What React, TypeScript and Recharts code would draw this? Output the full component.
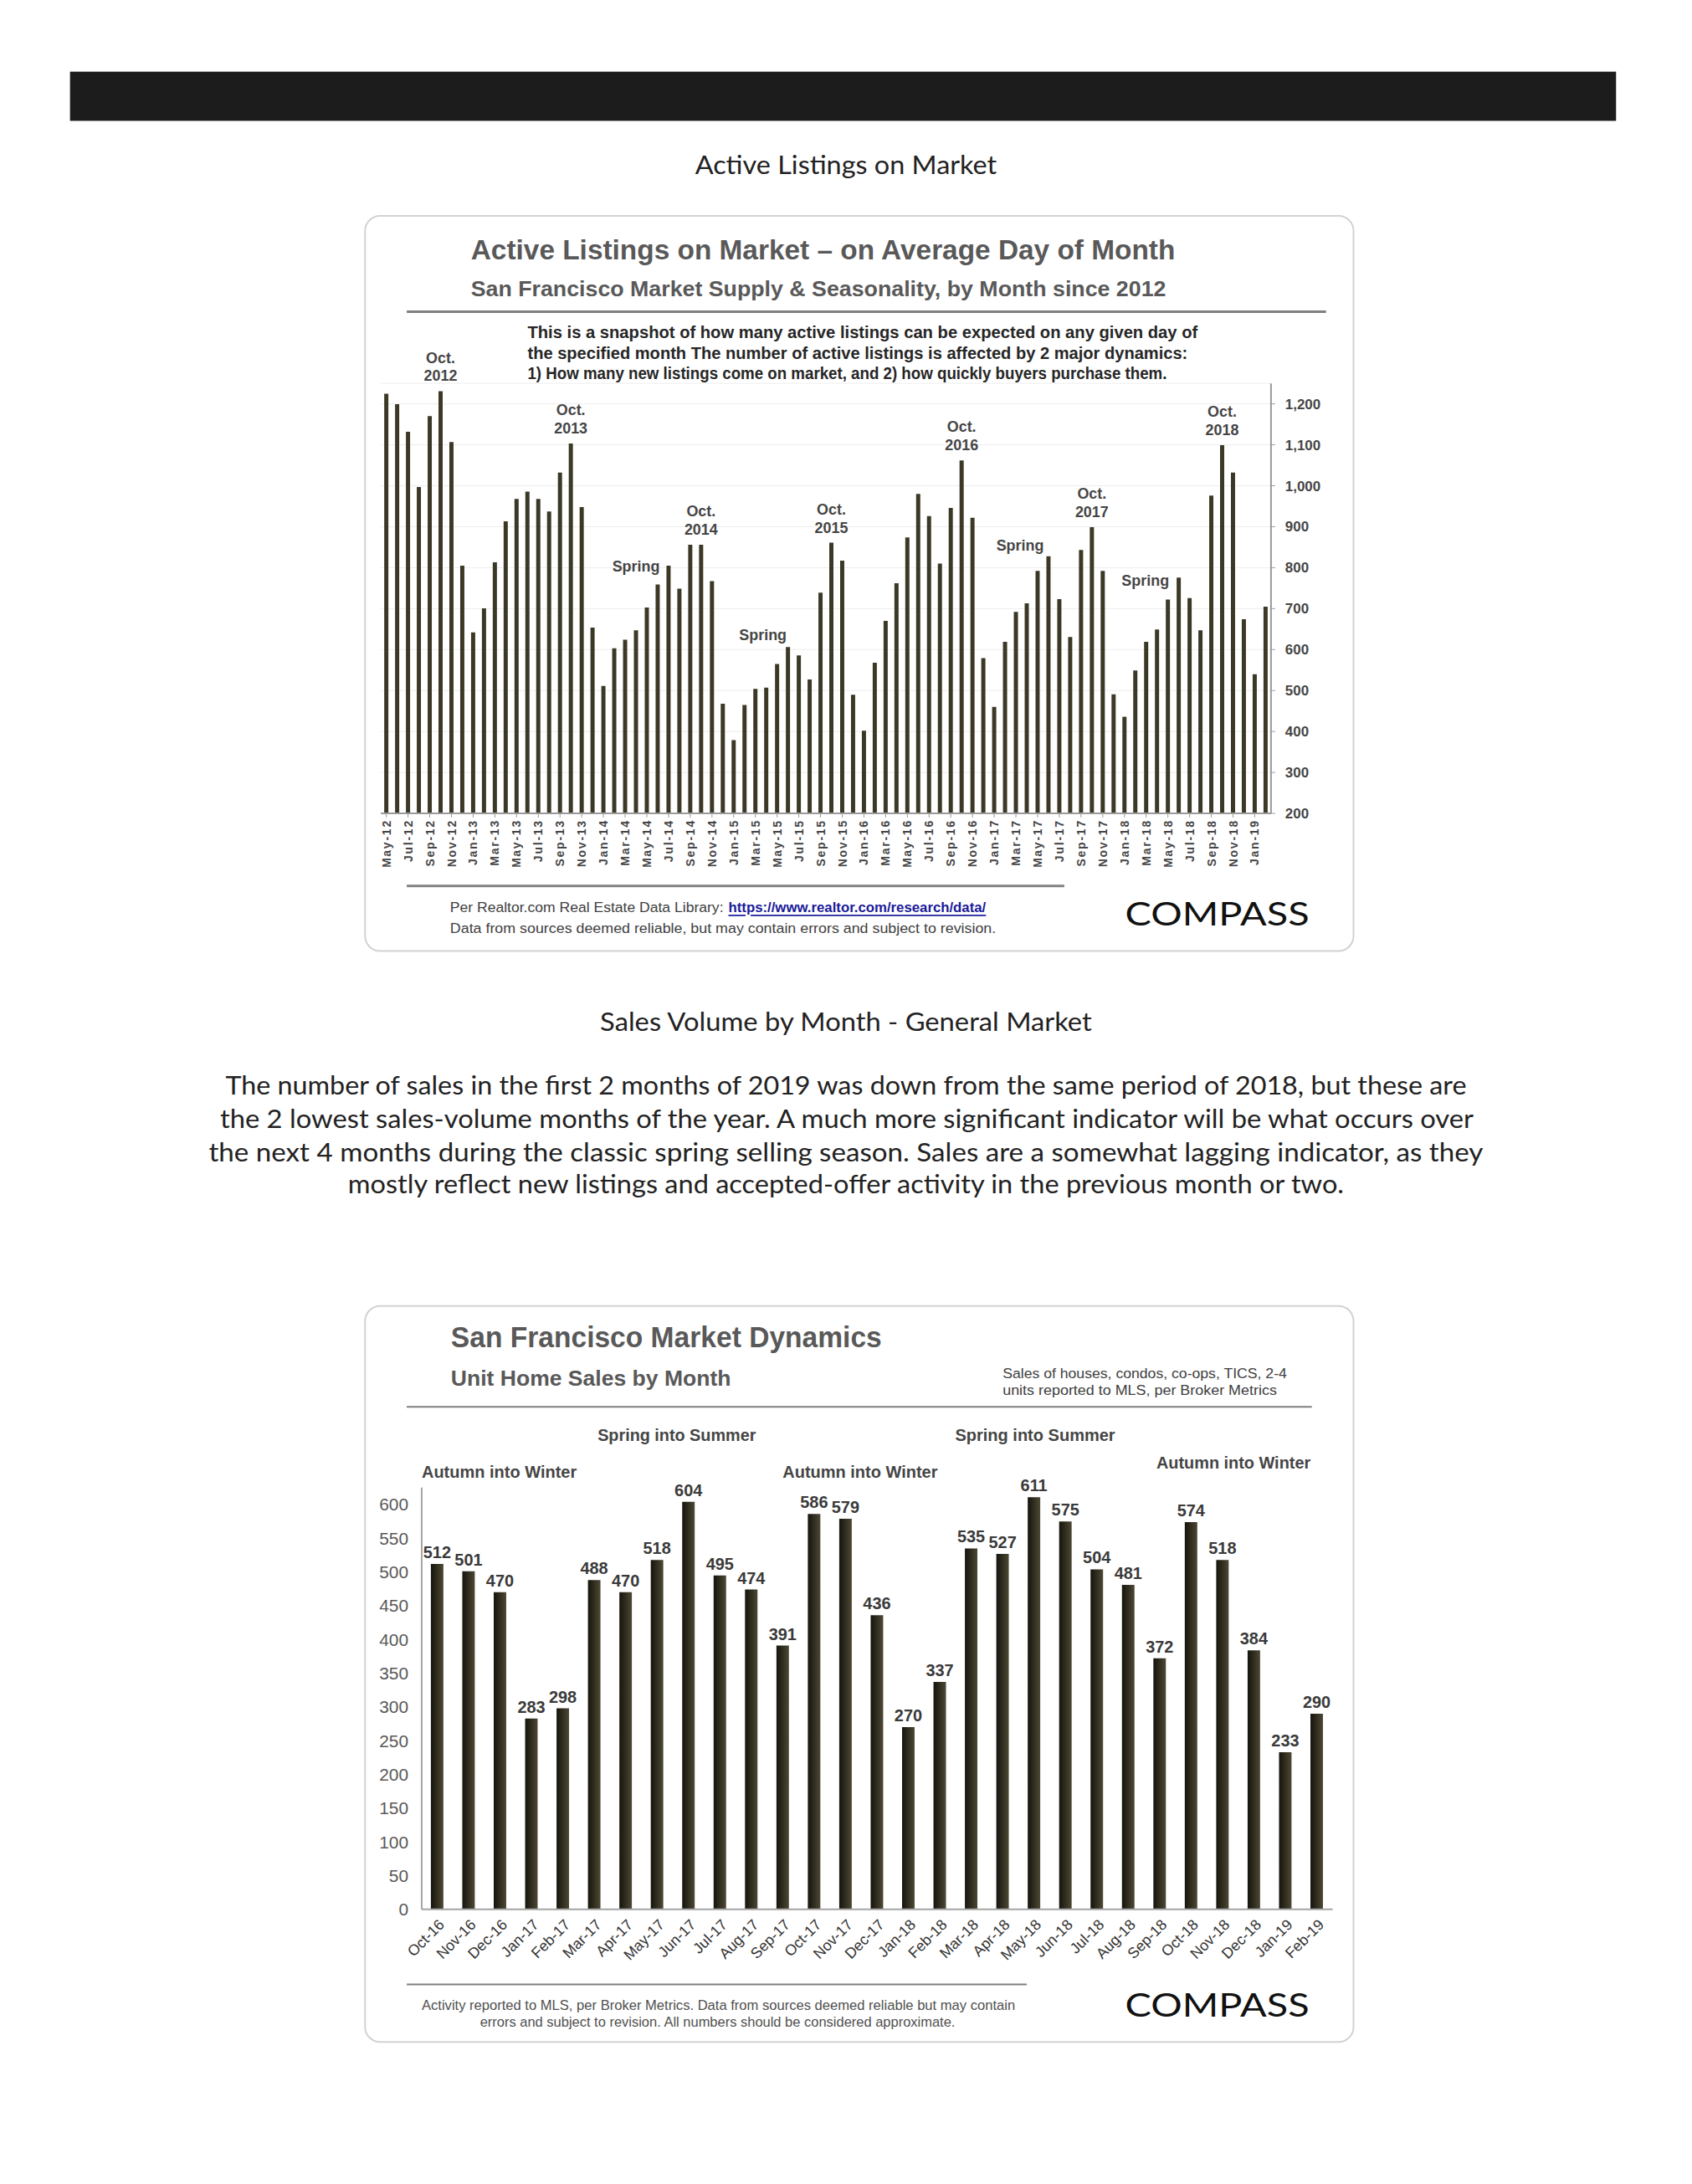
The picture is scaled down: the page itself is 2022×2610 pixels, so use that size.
import React from 'react';
import { BarChart, Bar, XAxis, YAxis, CartesianGrid, LabelList, ReferenceDot } from 'recharts';

// Active listings, May-12 .. Feb-19
const listingMonths = [
  'May-12', 'Jun-12', 'Jul-12', 'Aug-12', 'Sep-12', 'Oct-12', 'Nov-12', 'Dec-12',
  'Jan-13', 'Feb-13', 'Mar-13', 'Apr-13', 'May-13', 'Jun-13', 'Jul-13', 'Aug-13', 'Sep-13', 'Oct-13', 'Nov-13', 'Dec-13',
  'Jan-14', 'Feb-14', 'Mar-14', 'Apr-14', 'May-14', 'Jun-14', 'Jul-14', 'Aug-14', 'Sep-14', 'Oct-14', 'Nov-14', 'Dec-14',
  'Jan-15', 'Feb-15', 'Mar-15', 'Apr-15', 'May-15', 'Jun-15', 'Jul-15', 'Aug-15', 'Sep-15', 'Oct-15', 'Nov-15', 'Dec-15',
  'Jan-16', 'Feb-16', 'Mar-16', 'Apr-16', 'May-16', 'Jun-16', 'Jul-16', 'Aug-16', 'Sep-16', 'Oct-16', 'Nov-16', 'Dec-16',
  'Jan-17', 'Feb-17', 'Mar-17', 'Apr-17', 'May-17', 'Jun-17', 'Jul-17', 'Aug-17', 'Sep-17', 'Oct-17', 'Nov-17', 'Dec-17',
  'Jan-18', 'Feb-18', 'Mar-18', 'Apr-18', 'May-18', 'Jun-18', 'Jul-18', 'Aug-18', 'Sep-18', 'Oct-18', 'Nov-18', 'Dec-18',
  'Jan-19', 'Feb-19',
];
const listingValues = [
  1225, 1199, 1132, 997, 1170, 1231, 1107, 805,
  642, 701, 813, 913, 968, 986, 968, 937, 1032, 1103, 948, 654,
  511, 603, 624, 647, 703, 759, 805, 749, 856, 856, 767, 468,
  379, 465, 504, 507, 565, 606, 586, 527, 739, 861, 817, 490,
  402, 568, 670, 762, 874, 980, 926, 810, 946, 1062, 922, 579,
  460, 619, 692, 713, 792, 828, 723, 631, 843, 899, 792, 491,
  436, 549, 619, 649, 722, 776, 726, 647, 976, 1099, 1032, 674,
  540, 705,
];
const listingTicks = [200, 300, 400, 500, 600, 700, 800, 900, 1000, 1100, 1200];
const peakYears: Record<string, string> = {
  'Oct-12': '2012', 'Oct-13': '2013', 'Oct-14': '2014', 'Oct-15': '2015',
  'Oct-16': '2016', 'Oct-17': '2017', 'Oct-18': '2018',
};
const springNotes = [
  { month: 'Apr-14', value: 803, dx: 0 },
  { month: 'Apr-15', value: 636, dx: -4 },
  { month: 'Mar-17', value: 854, dx: 5 },
  { month: 'Mar-18', value: 768, dx: -1 },
];

// Unit home sales, Oct-16 .. Feb-19
const salesMonths = [
  'Oct-16', 'Nov-16', 'Dec-16', 'Jan-17', 'Feb-17', 'Mar-17', 'Apr-17', 'May-17', 'Jun-17', 'Jul-17',
  'Aug-17', 'Sep-17', 'Oct-17', 'Nov-17', 'Dec-17', 'Jan-18', 'Feb-18', 'Mar-18', 'Apr-18', 'May-18',
  'Jun-18', 'Jul-18', 'Aug-18', 'Sep-18', 'Oct-18', 'Nov-18', 'Dec-18', 'Jan-19', 'Feb-19',
];
const salesValues = [
  512, 501, 470, 283, 298, 488, 470, 518, 604, 495,
  474, 391, 586, 579, 436, 270, 337, 535, 527, 611,
  575, 504, 481, 372, 574, 518, 384, 233, 290,
];
const salesTicks = [0, 50, 100, 150, 200, 250, 300, 350, 400, 450, 500, 550, 600];

const paragraph = [
  'The number of sales in the first 2 months of 2019 was down from the same period of 2018, but these are',
  'the 2 lowest sales-volume months of the year. A much more significant indicator will be what occurs over',
  'the next 4 months during the classic spring selling season. Sales are a somewhat lagging indicator, as they',
  'mostly reflect new listings and accepted-offer activity in the previous month or two.',
];

const listingRows = listingMonths.map((month, i) => ({ month, value: listingValues[i], peak: peakYears[month] }));
const salesRows = salesMonths.map((month, i) => ({ month, sales: salesValues[i] }));

const ARIAL = "'Liberation Sans', Arial, sans-serif";
const NARROW = "'Liberation Sans Narrow', 'Arial Narrow', 'Liberation Sans', sans-serif";
const LATO = "Lato, 'Open Sans', sans-serif";

// fixed-width text helper for the page furniture
function T({ x, y, w, size, children, weight = 400, fill = '#222', family = ARIAL, anchor = 'start', underline = false }: any) {
  return (
    <text
      x={x}
      y={y}
      fontSize={size}
      fontWeight={weight}
      fill={fill}
      fontFamily={family}
      textAnchor={anchor}
      dominantBaseline="central"
      textLength={w}
      lengthAdjust="spacingAndGlyphs"
      textDecoration={underline ? 'underline' : undefined}
    >
      {children}
    </text>
  );
}

function MonthTick({ x, y, payload }: any) {
  return (
    <text
      x={x}
      y={y}
      transform={`rotate(-90 ${x} ${y})`}
      textAnchor="end"
      dy="0.36em"
      fontSize={14}
      fontWeight={700}
      letterSpacing={1.8}
      fill="#454545"
      fontFamily={ARIAL}
    >
      {payload.value}
    </text>
  );
}

function DiagTick({ x, y, payload }: any) {
  return (
    <g transform={`translate(${x + 5},${y + 7})`}>
      <text transform="rotate(-45)" textAnchor="end" dy="0.35em" fontSize={18} fill="#333" fontFamily={ARIAL}>
        {payload.value}
      </text>
    </g>
  );
}

function PeakLabel(props: any) {
  const { x, y, width, value } = props;
  if (!value) return null;
  const cx = Number(x) + Number(width) / 2;
  return (
    <g fontFamily={ARIAL} fontSize={18} fontWeight={700} fill="#454545" textAnchor="middle">
      <text x={cx} y={Number(y) - 34}>Oct.</text>
      <text x={cx} y={Number(y) - 12}>{value}</text>
    </g>
  );
}

function ListingsChart() {
  return (
    <div style={{ position: 'absolute', left: 440, top: 400 }}>
      <BarChart
        width={1180}
        height={640}
        data={listingRows}
        margin={{ top: 60, right: 25, bottom: 4, left: 17 }}
        style={{ fontFamily: ARIAL }}
      >
        <CartesianGrid vertical={false} stroke="#ededed" />
        <XAxis
          dataKey="month"
          interval={1}
          tick={<MonthTick />}
          tickSize={5}
          tickLine={{ stroke: '#9a9a9a' }}
          axisLine={{ stroke: '#9a9a9a', strokeWidth: 2 }}
          height={60}
        />
        <YAxis
          orientation="right"
          domain={[200, 1250]}
          ticks={listingTicks}
          allowDataOverflow
          tickFormatter={(v: number) => v.toLocaleString('en-US')}
          width={70}
          tickSize={5}
          tickMargin={12}
          tickLine={{ stroke: '#9a9a9a' }}
          axisLine={{ stroke: '#9a9a9a', strokeWidth: 2 }}
          tick={{ fontSize: 17, fontWeight: 700, fill: '#454545', textAnchor: 'start' }}
        />
        <Bar dataKey="value" fill="#3c3826" barSize={5} isAnimationActive={false}>
          <LabelList dataKey="peak" content={PeakLabel} />
        </Bar>
        {springNotes.map((n) => (
          <ReferenceDot
            key={n.month}
            x={n.month}
            y={n.value}
            r={0}
            ifOverflow="visible"
            shape={(p: any) => (
              <text
                x={p.cx + n.dx}
                y={p.cy}
                textAnchor="middle"
                dominantBaseline="central"
                fontSize={18}
                fontWeight={700}
                fill="#454545"
                fontFamily={ARIAL}
              >
                Spring
              </text>
            )}
          />
        ))}
      </BarChart>
    </div>
  );
}

function SalesChart() {
  return (
    <div style={{ position: 'absolute', left: 440, top: 1700 }}>
      <BarChart
        width={1180}
        height={700}
        data={salesRows}
        margin={{ top: 85, right: 21, bottom: 19, left: 6 }}
        style={{ fontFamily: ARIAL }}
      >
        <defs>
          <linearGradient id="salesFill" x1="0" y1="0" x2="1" y2="0">
            <stop offset="0" stopColor="#15140c" />
            <stop offset="1" stopColor="#4d4834" />
          </linearGradient>
        </defs>
        <XAxis
          dataKey="month"
          interval={0}
          tick={<DiagTick />}
          tickLine={false}
          axisLine={{ stroke: '#a5a5a5', strokeWidth: 2 }}
          height={90}
        />
        <YAxis
          domain={[0, 625]}
          ticks={salesTicks}
          allowDataOverflow
          width={60}
          tickLine={false}
          tickMargin={10}
          axisLine={{ stroke: '#a5a5a5', strokeWidth: 2 }}
          tick={{ fontSize: 21, fill: '#595959', fontFamily: NARROW }}
        />
        <Bar dataKey="sales" fill="url(#salesFill)" barSize={15} isAnimationActive={false}>
          <LabelList
            dataKey="sales"
            position="top"
            offset={7}
            style={{ fontSize: 20, fontWeight: 700, fill: '#3a3a3a', fontFamily: NARROW }}
          />
        </Bar>
      </BarChart>
    </div>
  );
}

export default function App() {
  return (
    <div
      style={{
        position: 'absolute',
        left: 0,
        top: 0,
        width: 2022,
        height: 2610,
        background: '#fff',
        overflow: 'hidden',
        transform: 'scale(0.996)',
        transformOrigin: '0 0',
      }}
    >
      <svg width={2022} height={2610} style={{ position: 'absolute', left: 0, top: 0 }}>
        <rect x={84} y={86} width={1855} height={59} fill="#1c1c1c" />

        <T x={1015} y={197} w={362} size={31} family={LATO} anchor="middle" fill="#222">Active Listings on Market</T>

        {/* card 1 */}
        <rect x={438} y={259} width={1186} height={882} rx={18} fill="#fff" stroke="#d2d2d2" strokeWidth={2} />
        <T x={565} y={299} w={845} size={34} weight={700} fill="#595959" family={NARROW}>
          Active Listings on Market – on Average Day of Month
        </T>
        <T x={565} y={346} w={834} size={25} weight={700} fill="#595959">
          San Francisco Market Supply &amp; Seasonality, by Month since 2012
        </T>
        <line x1={488} x2={1591} y1={374} y2={374} stroke="#7f7f7f" strokeWidth={3} />
        <T x={633} y={399} w={804} size={20} weight={700} fill="#262626">
          This is a snapshot of how many active listings can be expected on any given day of
        </T>
        <T x={633} y={424} w={792} size={20} weight={700} fill="#262626">
          the specified month  The number of active listings is affected by 2 major dynamics:
        </T>
        <T x={633} y={448} w={767} size={20} weight={700} fill="#262626">
          1) How many new listings come on market, and 2) how quickly buyers purchase them.
        </T>
        <line x1={488} x2={1277} y1={1063} y2={1063} stroke="#808080" strokeWidth={3} />
        <T x={540} y={1089} w={328} size={17} fill="#404040" family={NARROW}>
          Per Realtor.com Real Estate  Data Library:
        </T>
        <T x={874} y={1089} w={309} size={17} weight={700} fill="#1a1a9a" family={NARROW} underline>
          https://www.realtor.com/research/data/
        </T>
        <T x={540} y={1114} w={655} size={17} fill="#404040" family={NARROW}>
          Data from sources  deemed reliable, but may contain errors and subject to revision.
        </T>
        <T x={1350} y={1096} w={221} size={38} fill="#111" family={LATO}>COMPASS</T>

        <T x={1015} y={1225} w={590} size={31} family={LATO} anchor="middle" fill="#222">
          Sales Volume by Month - General Market
        </T>
        <T x={1015} y={1302} w={1489} size={30} family={LATO} anchor="middle" fill="#222">{paragraph[0]}</T>
        <T x={1016} y={1342} w={1504} size={30} family={LATO} anchor="middle" fill="#222">{paragraph[1]}</T>
        <T x={1015} y={1382} w={1529} size={30} family={LATO} anchor="middle" fill="#222">{paragraph[2]}</T>
        <T x={1015} y={1420} w={1195} size={30} family={LATO} anchor="middle" fill="#222">{paragraph[3]}</T>

        {/* card 2 */}
        <rect x={438} y={1567} width={1186} height={883} rx={18} fill="#fff" stroke="#d2d2d2" strokeWidth={2} />
        <T x={541} y={1604} w={517} size={36} weight={700} fill="#595959" family={NARROW}>
          San Francisco Market Dynamics
        </T>
        <T x={541} y={1654} w={336} size={26} weight={700} fill="#595959" family={NARROW}>
          Unit Home Sales by Month
        </T>
        <T x={1203} y={1648} w={341} size={17} fill="#404040" family={NARROW}>
          Sales of houses,  condos,  co-ops,  TICS, 2-4
        </T>
        <T x={1203} y={1668} w={329} size={17} fill="#404040" family={NARROW}>
          units reported to MLS, per Broker Metrics
        </T>
        <line x1={488} x2={1574} y1={1688} y2={1688} stroke="#7f7f7f" strokeWidth={2} />
        <T x={812} y={1721} w={190} size={21} weight={700} fill="#454545" family={NARROW} anchor="middle">Spring into Summer</T>
        <T x={1242} y={1721} w={192} size={21} weight={700} fill="#454545" family={NARROW} anchor="middle">Spring into Summer</T>
        <T x={599} y={1766} w={186} size={21} weight={700} fill="#454545" family={NARROW} anchor="middle">Autumn into Winter</T>
        <T x={1032} y={1766} w={186} size={21} weight={700} fill="#454545" family={NARROW} anchor="middle">Autumn into Winter</T>
        <T x={1480} y={1755} w={185} size={21} weight={700} fill="#454545" family={NARROW} anchor="middle">Autumn into Winter</T>
        <line x1={488} x2={1232} y1={2381} y2={2381} stroke="#808080" strokeWidth={2} />
        <T x={862} y={2406} w={712} size={16} fill="#505050" family={NARROW} anchor="middle">
          Activity reported to MLS, per Broker Metrics. Data from sources deemed  reliable but may contain
        </T>
        <T x={861} y={2426} w={570} size={16} fill="#505050" family={NARROW} anchor="middle">
          errors and subject to revision.  All numbers  should be considered  approximate.
        </T>
        <T x={1350} y={2405} w={221} size={38} fill="#111" family={LATO}>COMPASS</T>
      </svg>
      <ListingsChart />
      <SalesChart />
    </div>
  );
}
